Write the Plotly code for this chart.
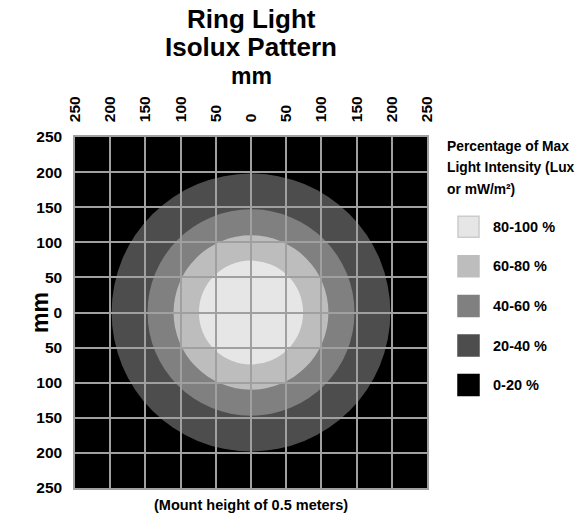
import plotly.graph_objects as go

# ---- data ----
tick_vals = [-250, -200, -150, -100, -50, 0, 50, 100, 150, 200, 250]
tick_text = ["250", "200", "150", "100", "50", "0", "50", "100", "150", "200", "250"]

band_labels = ["80-100 %", "60-80 %", "40-60 %", "20-40 %", "0-20 %"]
band_colors = ["#e6e6e6", "#bdbdbd", "#808080", "#4d4d4d", "#000000"]
band_radii = [74, 110, 147, 198, None]   # outer radius (mm) of each band; 0-20 % is the background

legend_title_lines = ["Percentage of Max", "Light Intensity (Lux", "or mW/m²)"]
title_lines = ["Ring Light", "Isolux Pattern"]
axis_title = "mm"
note_text = "(Mount height of 0.5 meters)"

FONT = "Liberation Sans"

# plot-area geometry in pixels
L, R, T, B = 75, 427, 137, 488
W, H = float(R - L), float(B - T)


def px(xp):
    return (xp - L) / W


def py(yp):
    return (B - yp) / H


def bold(size):
    return dict(family=FONT, size=size, color="black", weight="bold")


fig = go.Figure()

# invisible trace to establish axes
fig.add_trace(go.Scatter(x=[-250, 250], y=[-250, 250], mode="markers",
                         marker=dict(opacity=0), hoverinfo="skip", showlegend=False))

# circles drawn largest first
order = sorted([i for i, r in enumerate(band_radii) if r is not None],
               key=lambda i: -band_radii[i])
for i in order:
    r = band_radii[i]
    fig.add_shape(type="circle", xref="x", yref="y", x0=-r, x1=r, y0=-r, y1=r,
                  fillcolor=band_colors[i], line=dict(width=0), layer="below")

# manual legend
legend_x0_px, legend_sq, legend_text_px = 458, 21, 491
first_center, spacing = 226.7, 39.6
for k, (lab, col) in enumerate(zip(band_labels, band_colors)):
    cy = first_center + k * spacing
    fig.add_shape(type="rect", xref="paper", yref="paper",
                  x0=px(legend_x0_px), x1=px(legend_x0_px + legend_sq),
                  y0=py(cy + legend_sq / 2), y1=py(cy - legend_sq / 2),
                  fillcolor=col,
                  line=dict(width=1.5, color="#cccccc" if k == 0 else col))
    fig.add_annotation(xref="paper", yref="paper", x=px(legend_text_px), y=py(cy),
                       xanchor="left", yanchor="middle", showarrow=False, text=lab,
                       font=bold(14.5))

for j, line in enumerate(legend_title_lines):
    cy = 146.5 + j * 21.3
    fig.add_annotation(xref="paper", yref="paper", x=px(445), y=py(cy),
                       xanchor="left", yanchor="middle", showarrow=False, text=line,
                       font=bold(13.8))

# titles
for j, line in enumerate(title_lines):
    fig.add_annotation(xref="paper", yref="paper", x=0.5, y=py(19 + j * 28),
                       xanchor="center", yanchor="middle", showarrow=False, text=line,
                       font=bold(26))
fig.add_annotation(xref="paper", yref="paper", x=0.5, y=py(76),
                   xanchor="center", yanchor="middle", showarrow=False, text=axis_title,
                   font=bold(23))
fig.add_annotation(xref="paper", yref="paper", x=px(40), y=py(313),
                   xanchor="center", yanchor="middle", showarrow=False, text=axis_title,
                   textangle=-90, font=bold(23))

fig.add_annotation(xref="paper", yref="paper", x=0.5, y=py(505),
                   xanchor="center", yanchor="middle", showarrow=False, text=note_text,
                   font=bold(14.5))

fig.update_layout(
    width=579, height=520,
    margin=dict(l=L, r=579 - R, t=T, b=520 - B, autoexpand=False),
    paper_bgcolor="white", plot_bgcolor="black",
    showlegend=False,
    font=dict(family=FONT, color="black"),
)

axis_common = dict(range=[-250, 250], tickvals=tick_vals, ticktext=tick_text,
                   showgrid=True, gridcolor="#a0a0a0", gridwidth=1.5,
                   zeroline=False, showline=True, linecolor="#a0a0a0", linewidth=1.5,
                   mirror=True, ticks="", fixedrange=True, automargin=False,
                   tickfont=bold(15.5))

fig.update_xaxes(**axis_common, side="top", tickangle=-90, ticklabelstandoff=10)
fig.update_yaxes(**axis_common, ticklabelstandoff=8)

fig.write_html("out.html", config={"displayModeBar": False},
               post_script="document.body.style.margin='0';")
